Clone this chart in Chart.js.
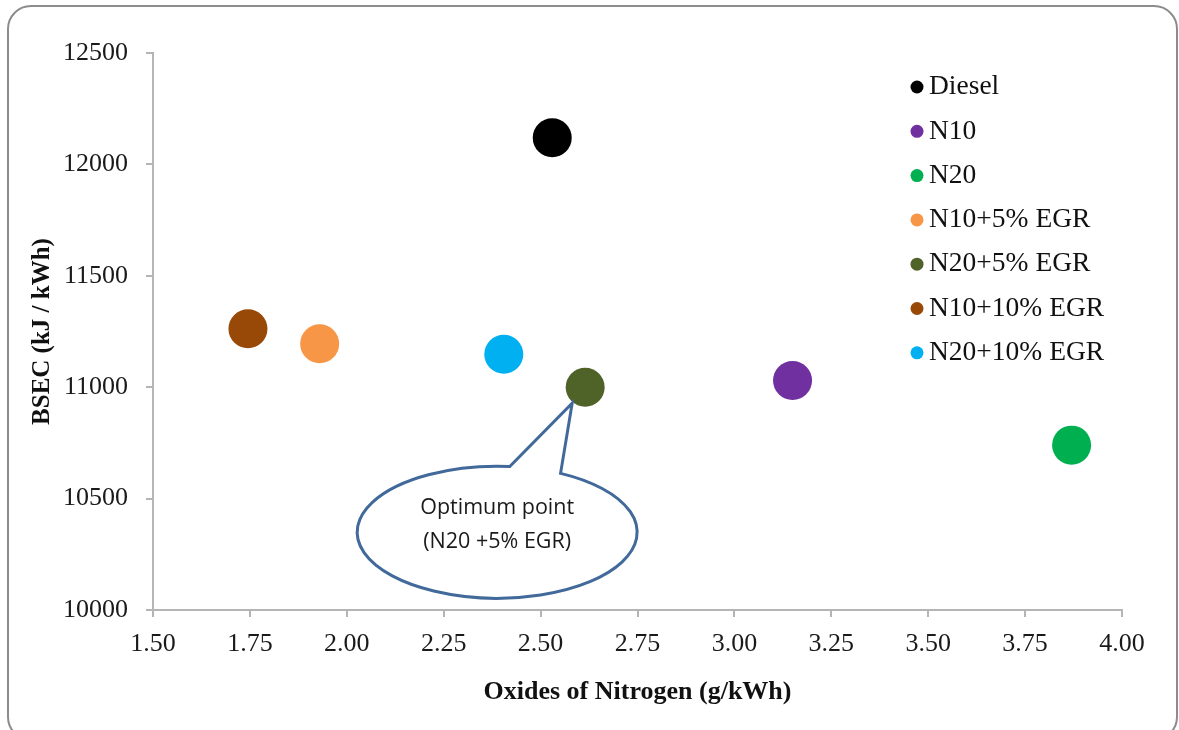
<!DOCTYPE html>
<html>
<head>
<meta charset="utf-8">
<script src="https://cdn.jsdelivr.net/npm/chart.js@4.4.1/dist/chart.umd.min.js"></script>
<style>
  html, body { margin: 0; padding: 0; background: #ffffff; }
  #wrap { position: relative; width: 1179px; height: 730px; overflow: hidden; }
  #frame {
    position: absolute; left: 7px; top: 5px; width: 1171px; height: 736px;
    border: 2px solid #8c8c8c; border-radius: 24px; box-sizing: border-box;
    pointer-events: none;
  }
  canvas { position: absolute; left: 0; top: 0; }
</style>
</head>
<body>
<div id="wrap">
  <canvas id="chart" width="1179" height="730"></canvas>
  <div id="frame"></div>
</div>
<script>
// Blend labels, in legend order
const blends = ['Diesel', 'N10', 'N20', 'N10+5% EGR', 'N20+5% EGR', 'N10+10% EGR', 'N20+10% EGR'];
// Oxides of nitrogen (g/kWh) for each blend
const noxValues = [2.53, 3.15, 3.87, 1.93, 2.615, 1.745, 2.405];
// Brake specific energy consumption (kJ/kWh) for each blend
const bsecValues = [12120, 11030, 10740, 11195, 11000, 11262, 11148];
// Marker colours for each blend
const blendColors = ['#000000', '#7030A0', '#00B050', '#F79646', '#4F6228', '#984807', '#00B0F0'];
// Axis ranges and steps
const xTicks = { min: 1.5, max: 4.0, step: 0.25 };
const yTicks = { min: 10000, max: 12500, step: 500 };
// Callout text and the blend it points at
const calloutLines = ['Optimum point', '(N20 +5% EGR)'];
const calloutTarget = 'N20+5% EGR';

const serif = '"Liberation Serif", "Times New Roman", serif';

const datasets = blends.map((name, i) => ({
  label: name,
  data: [{ x: noxValues[i], y: bsecValues[i] }],
  backgroundColor: blendColors[i],
  borderColor: blendColors[i],
  borderWidth: 0,
  pointRadius: 19.5,
  pointHoverRadius: 19.5
}));

// Legend drawn inside the plot area, one row per blend
const innerLegend = {
  id: 'innerLegend',
  afterDatasetsDraw(chart) {
    const ctx = chart.ctx;
    const x0 = 917, y0 = 86, rowH = 44.3;
    ctx.save();
    ctx.font = '27.5px ' + serif;
    ctx.textBaseline = 'middle';
    ctx.textAlign = 'left';
    chart.data.datasets.forEach((ds, i) => {
      const y = y0 + i * rowH;
      ctx.fillStyle = ds.backgroundColor;
      ctx.beginPath();
      ctx.arc(x0, y + 1, 6.5, 0, Math.PI * 2);
      ctx.fill();
      ctx.fillStyle = '#111111';
      ctx.fillText(ds.label, x0 + 12, y + 1);
    });
    ctx.restore();
  }
};

// Speech-bubble callout whose tail ends at the chosen blend's marker
const callout = {
  id: 'callout',
  afterDatasetsDraw(chart) {
    const idx = blends.indexOf(calloutTarget);
    const xs = chart.scales.x, ys = chart.scales.y;
    const px = xs.getPixelForValue(noxValues[idx]);
    const py = ys.getPixelForValue(bsecValues[idx]);
    const tip = { x: px - 13, y: py + 16 };
    const cx = px - 88, cy = py + 145, rx = 140, ry = 66;
    const a1 = -Math.PI / 2 + 0.09;   // tail left base angle
    const a2 = -Math.PI / 2 + 0.47;   // tail right base angle
    const ctx = chart.ctx;
    ctx.save();
    ctx.beginPath();
    ctx.ellipse(cx, cy, rx, ry, 0, a2, a1 + Math.PI * 2, false);
    ctx.lineTo(tip.x, tip.y);
    ctx.lineTo(cx + rx * Math.cos(a2), cy + ry * Math.sin(a2));
    ctx.closePath();
    ctx.fillStyle = '#ffffff';
    ctx.fill();
    ctx.lineWidth = 3;
    ctx.lineJoin = 'miter';
    ctx.strokeStyle = '#41699A';
    ctx.stroke();
    ctx.fillStyle = '#1a1a1a';
    ctx.font = '21.5px "Open Sans", "Liberation Sans", sans-serif';
    ctx.textAlign = 'center';
    ctx.textBaseline = 'middle';
    ctx.fillText(calloutLines[0], cx, cy - 24);
    ctx.fillText(calloutLines[1], cx, cy + 10);
    ctx.restore();
  }
};

new Chart(document.getElementById('chart'), {
  type: 'scatter',
  data: { datasets },
  plugins: [innerLegend, callout],
  options: {
    responsive: false,
    animation: false,
    layout: { padding: { left: 0, top: 53, right: 57, bottom: 0 } },
    plugins: { legend: { display: false }, tooltip: { enabled: false } },
    scales: {
      x: {
        type: 'linear',
        min: xTicks.min, max: xTicks.max,
        afterFit(scale) { scale.height = 120; },
        ticks: {
          stepSize: xTicks.step,
          padding: 12,
          color: '#1a1a1a',
          font: { family: serif, size: 26 },
          callback: v => Number(v).toFixed(2)
        },
        grid: { display: true, drawOnChartArea: false, drawTicks: true, tickLength: 7, color: '#b5b5b5', lineWidth: 2 },
        border: { display: true, color: '#b5b5b5', width: 2 },
        title: {
          display: true,
          text: 'Oxides of Nitrogen (g/kWh)',
          color: '#111111',
          font: { family: serif, size: 26, weight: 'bold' },
          padding: { top: 0, bottom: 22 }
        }
      },
      y: {
        type: 'linear',
        min: yTicks.min, max: yTicks.max,
        afterFit(scale) { scale.width = 153; },
        ticks: {
          stepSize: yTicks.step,
          padding: 18,
          color: '#1a1a1a',
          font: { family: serif, size: 26 },
          callback: v => String(v)
        },
        grid: { display: true, drawOnChartArea: false, drawTicks: true, tickLength: 7, color: '#b5b5b5', lineWidth: 2 },
        border: { display: true, color: '#b5b5b5', width: 2 },
        title: {
          display: true,
          text: 'BSEC (kJ / kWh)',
          color: '#111111',
          font: { family: serif, size: 25, weight: 'bold' },
          padding: { top: 28, bottom: 0 }
        }
      }
    }
  }
});
</script>
</body>
</html>
